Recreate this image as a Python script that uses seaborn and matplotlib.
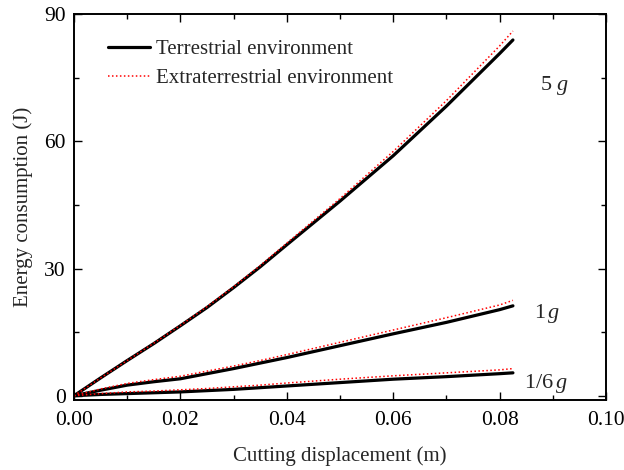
import numpy as np
import pandas as pd
import seaborn as sns
import matplotlib
matplotlib.use("Agg")
import matplotlib.pyplot as plt
from matplotlib.lines import Line2D
from matplotlib.ticker import MultipleLocator, FormatStrFormatter

# Cutting displacement (m)
displacement = [0.0, 0.005, 0.01, 0.015, 0.02, 0.025, 0.03, 0.035, 0.04, 0.05, 0.06, 0.07, 0.08, 0.0825]

# Energy consumption (J), terrestrial environment
terr_5g = [0.0, 4.2, 8.3, 12.3, 16.5, 20.8, 25.5, 30.4, 35.6, 45.9, 56.6, 68.3, 80.7, 83.9]
terr_1g = [0.0, 1.3, 2.5, 3.3, 4.0, 5.2, 6.4, 7.7, 9.0, 11.8, 14.6, 17.3, 20.3, 21.2]
terr_16g = [0.0, 0.3, 0.5, 0.7, 0.9, 1.2, 1.5, 1.9, 2.3, 3.1, 3.9, 4.5, 5.2, 5.4]

# Energy consumption (J), extraterrestrial environment
extra_5g = [0.0, 4.2, 8.3, 12.4, 16.6, 21.0, 25.7, 30.7, 36.0, 46.5, 57.6, 69.6, 82.5, 86.0]
extra_1g = [0.0, 1.6, 2.9, 3.8, 4.6, 5.8, 7.0, 8.3, 9.7, 12.6, 15.5, 18.4, 21.4, 22.5]
extra_16g = [0.0, 0.5, 0.9, 1.1, 1.4, 1.7, 2.1, 2.5, 3.0, 3.9, 4.7, 5.4, 6.1, 6.4]

environments = ["Terrestrial environment", "Extraterrestrial environment"]

series = {
    ("Terrestrial environment", "5"): terr_5g,
    ("Terrestrial environment", "1"): terr_1g,
    ("Terrestrial environment", "1/6"): terr_16g,
    ("Extraterrestrial environment", "5"): extra_5g,
    ("Extraterrestrial environment", "1"): extra_1g,
    ("Extraterrestrial environment", "1/6"): extra_16g,
}

rows = []
for (env, grav), vals in series.items():
    for x, y in zip(displacement, vals):
        rows.append({"env": env, "gravity": grav, "x": x, "y": y})
df = pd.DataFrame(rows)

sns.set_theme(style="ticks")
plt.rcParams["font.family"] = ["Liberation Serif", "DejaVu Serif"]
plt.rcParams["mathtext.fontset"] = "custom"
plt.rcParams["mathtext.rm"] = "Liberation Serif"
plt.rcParams["mathtext.it"] = "Liberation Serif:italic"

fig = plt.figure(figsize=(6.24, 4.70), dpi=100)
ax = fig.add_axes([0.1186, 0.149, 0.8526, 0.821])

styles = {
    "Terrestrial environment": dict(color="black", linewidth=2.3, linestyle="-"),
    "Extraterrestrial environment": dict(color="red", linewidth=1.1, linestyle=(0, (1, 1.6))),
}

for env in environments:
    sub = df[df["env"] == env]
    sns.lineplot(data=sub, x="x", y="y", units="gravity", estimator=None,
                 sort=False, ax=ax, legend=False, **styles[env])

ax.set_xlim(0, 0.10)
ax.set_ylim(-1, 90)
ax.xaxis.set_major_locator(MultipleLocator(0.02))
ax.xaxis.set_minor_locator(MultipleLocator(0.01))
ax.yaxis.set_major_locator(MultipleLocator(30))
ax.yaxis.set_minor_locator(MultipleLocator(15))
ax.xaxis.set_major_formatter(FormatStrFormatter("%.2f"))

ax.tick_params(which="both", direction="in", top=True, right=True,
               labelsize=15.5, colors="black", width=1.0)
ax.tick_params(which="major", length=6)
ax.tick_params(which="minor", length=3.5)
ax.tick_params(axis="x", pad=8)
ax.tick_params(axis="y", pad=6)
for side in ["top", "right", "bottom", "left"]:
    ax.spines[side].set_linewidth(1.4)
    ax.spines[side].set_color("black")

ax.set_xlabel("Cutting displacement (m)", fontsize=15, labelpad=12)
ax.set_ylabel("Energy consumption (J)", fontsize=15, labelpad=8)

# gravity annotations at the curve ends
ax.text(0.0876, 73.2, r"5 $g$", fontsize=16, va="center", ha="left")
ax.text(0.0865, 19.3, r"1$\,g$", fontsize=16, va="center", ha="left")
ax.text(0.0845, 2.8, r"1/6$\,g$", fontsize=16, va="center", ha="left")

handles = [Line2D([], [], **styles[env]) for env in environments]
ax.legend(handles, environments, loc="upper left", bbox_to_anchor=(0.049, 0.955),
          frameon=False, fontsize=15, handlelength=2.0, handletextpad=0.3,
          labelspacing=0.45, borderaxespad=0)

fig.savefig("out.png", dpi=100)
